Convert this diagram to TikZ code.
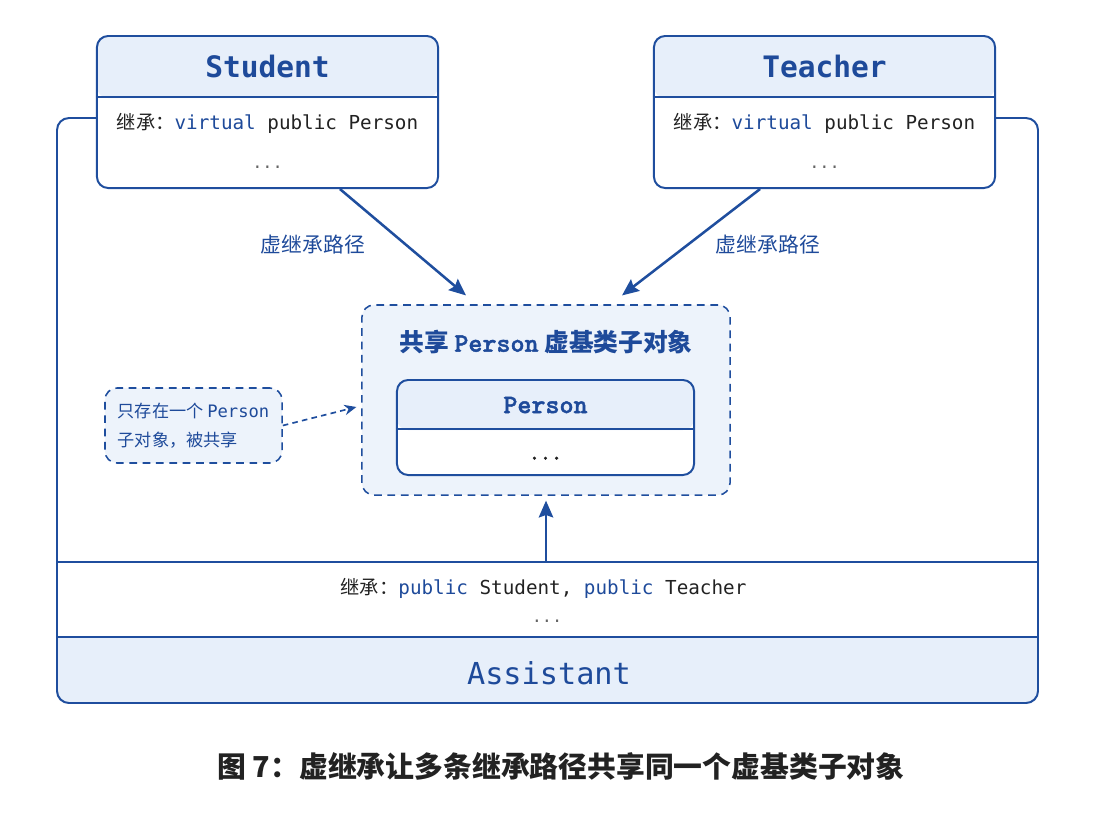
\documentclass[tikz,border=0pt]{standalone}
\usepackage{fontspec}
\setmainfont{Noto Sans CJK SC}
\setmonofont{DejaVu Sans Mono}
\newfontfamily\slabmono{lmmonolt10-bold.otf}[FakeBold=1.6]
\usetikzlibrary{arrows.meta,positioning,calc}
\definecolor{lineblue}{HTML}{1F4E9E}
\definecolor{headfill}{HTML}{E7EFFA}
\definecolor{sharefill}{HTML}{EDF3FB}
\definecolor{txtblue}{HTML}{1E4A9A}
\definecolor{txtgray}{HTML}{222222}
\newcommand{\kw}[1]{\textcolor{txtblue}{#1}}

\begin{document}
\begin{tikzpicture}[x=0.025cm,y=-0.025cm,
    classbox/.style={draw=lineblue,line width=1.4pt,rounded corners=0.28cm,fill=white,inner sep=0pt},
    headed/.style={path picture={\fill[headfill] (path picture bounding box.north west) rectangle ([yshift=-#1]path picture bounding box.north east);}},
    dashbox/.style={draw=lineblue,line width=1.1pt,dash pattern=on 5.5pt off 4pt,rounded corners=0.3cm,fill=sharefill,inner sep=0pt},
    frameline/.style={draw=lineblue,line width=1.4pt},
    arrowline/.style={draw=lineblue,line width=1.8pt,-{Stealth[length=0.42cm,width=0.36cm,inset=0.06cm]}},
    titletext/.style={font=\ttfamily\bfseries\fontsize{21}{25}\selectfont,text=txtblue},
    codetext/.style={font=\fontsize{13.7}{16}\selectfont,text=txtgray},
    dotstext/.style={font=\ttfamily\fontsize{12}{14}\selectfont,text=txtgray!70},
    pathlabel/.style={font=\fontsize{14.8}{17}\selectfont,text=txtblue}]

\useasboundingbox (0,0) rectangle (1100,825);

% Assistant frame
\begin{scope}
  \clip[rounded corners=0.3cm] (57,118) rectangle (1038,703);
  \fill[headfill] (57,637) rectangle (1038,703);
\end{scope}

\node[classbox,headed=1.55cm,minimum width=8.525cm,minimum height=3.8cm] (student) at (267.5,112) {};
\node[classbox,headed=1.55cm,minimum width=8.525cm,minimum height=3.8cm] (teacher) at (824.5,112) {};

\draw[frameline,rounded corners=0.3cm] ([yshift=-0.15cm]student.west) -- (57,118) -- (57,703) -- (1038,703) -- (1038,118) -- ([yshift=-0.15cm]teacher.east);
\draw[frameline] (57,562) -- (1038,562);
\draw[frameline] (57,637) -- (1038,637);
\coordinate (bandtop) at (546,562);

\node[codetext] (assistinh) at (543.5,588) {继承：{\ttfamily\kw{public} Student, \kw{public} Teacher}};
\node[dotstext] (assistdots) at (547,621) {...};
\node[titletext,font=\ttfamily\fontsize{21.5}{25}\selectfont] (assistname) at (549,673) {Assistant};

% Student / Teacher
\foreach \n/\t in {student/Student,teacher/Teacher}{
  \draw[frameline] ([yshift=-1.55cm]\n.north west) -- ([yshift=-1.55cm]\n.north east);
  \node[titletext] (\n name) at ([yshift=-0.775cm]\n.north) {\t};
  \node[codetext] (\n inh) at ([yshift=-2.2cm]\n.north) {继承：{\ttfamily\kw{virtual} public Person}};
  \node[dotstext] (\n dots) at ([yshift=-3.3cm]\n.north) {...};
}

% shared Person subobject
\node[dashbox,minimum width=9.2cm,minimum height=4.75cm] (shared) at (546,400) {};
\node[font=\bfseries\fontsize{17.6}{20}\selectfont,text=txtblue] (sharedtitle) at ([yshift=-0.95cm]shared.north) {共享 {\slabmono\fontsize{19}{20}\selectfont Person} 虚基类子对象};
\node[classbox,headed=1.25cm,minimum width=7.425cm,minimum height=2.375cm] (person) at (545.5,427.5) {};
\draw[frameline] ([yshift=-1.25cm]person.north west) -- ([yshift=-1.25cm]person.north east);
\node[font=\slabmono\fontsize{19}{21}\selectfont,text=txtblue] (personname) at ([yshift=-0.65cm]person.north) {Person};
\node[font=\slabmono\fontsize{15}{16}\selectfont,text=txtgray] (persondots) at ([yshift=-1.98cm]person.north) {...};

% note
\node[dashbox,minimum width=4.425cm,minimum height=1.875cm,align=left,font=\fontsize{12.2}{21}\selectfont,text=txtblue] (note) at (193.5,425.5) {只存在一个 {\ttfamily Person}\\子对象，被共享};

% arrows
\draw[arrowline] ([xshift=1.81cm]student.south) -- ([xshift=-2cm,yshift=0.22cm]shared.north);
\draw[arrowline] ([xshift=-1.61cm]teacher.south) -- ([xshift=1.9cm,yshift=0.22cm]shared.north);
\draw[arrowline] (bandtop) -- ([yshift=-0.12cm]shared.south);
\draw[draw=lineblue,line width=1.2pt,dash pattern=on 4pt off 3pt,-{Stealth[length=0.3cm,width=0.26cm]}] (note.east) -- ([xshift=-0.12cm,yshift=-0.175cm]shared.west);

\node[pathlabel] (leftlabel) at (313,245) {虚继承路径};
\node[pathlabel] (rightlabel) at (768,245) {虚继承路径};

\node[font=\bfseries\fontsize{20.5}{24}\selectfont,text=txtgray] (caption) at (561,766) {图 7：虚继承让多条继承路径共享同一个虚基类子对象};
\end{tikzpicture}
\end{document}
